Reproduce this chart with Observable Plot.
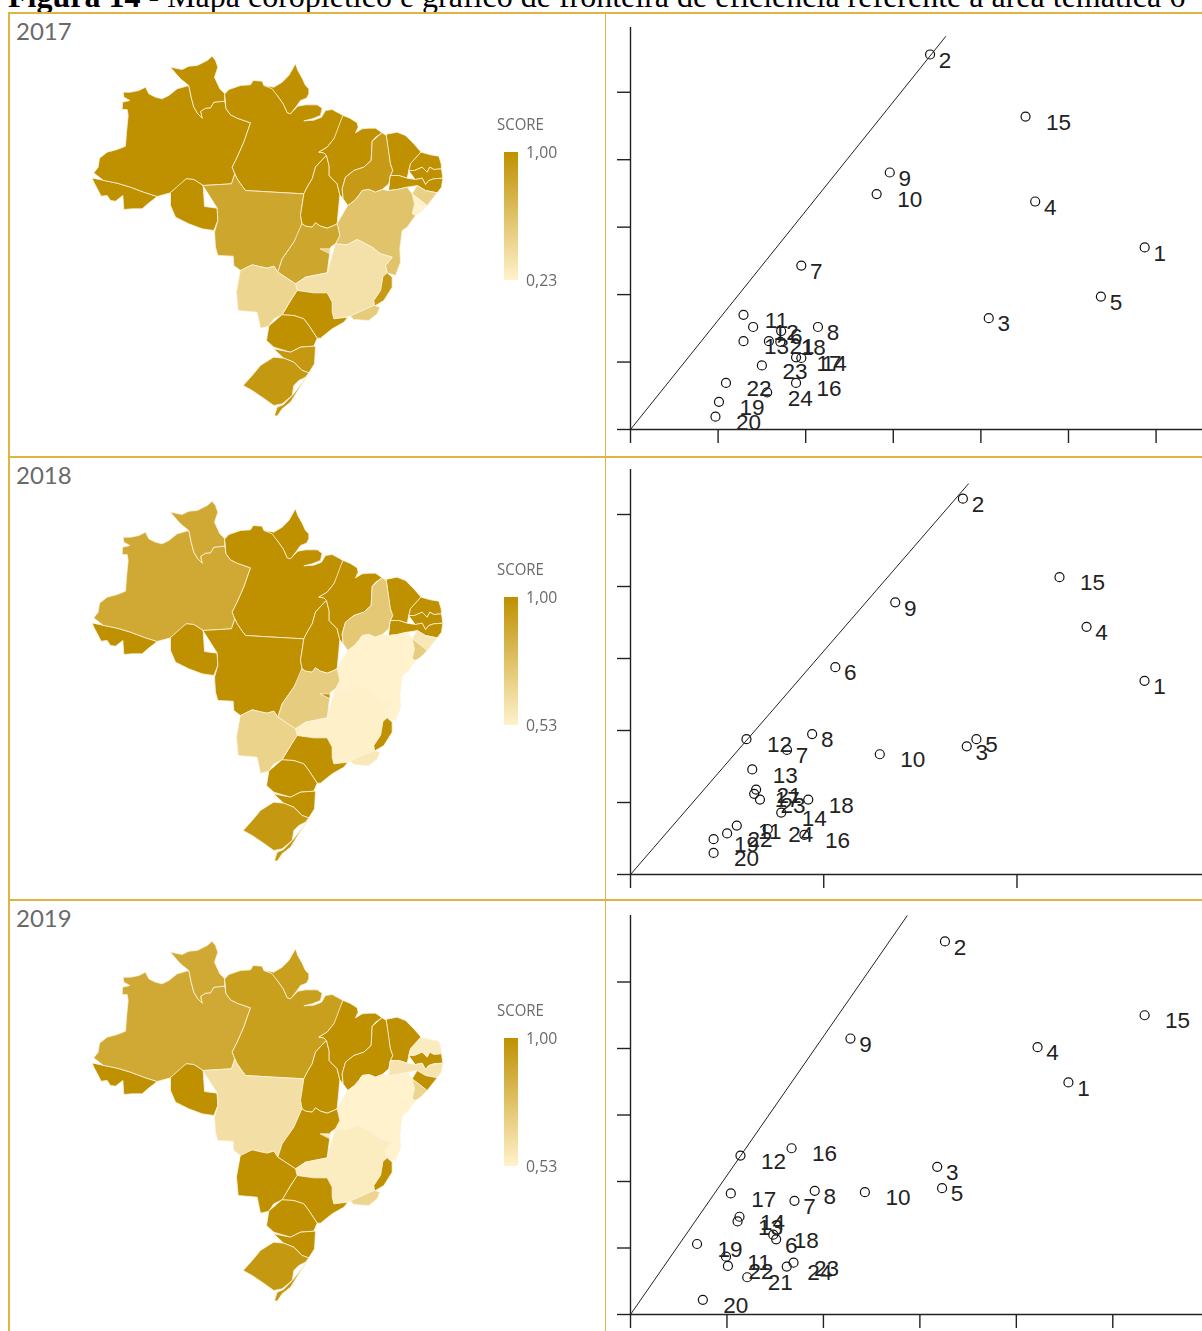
<!DOCTYPE html>
<html><head><meta charset="utf-8">
<script src="https://cdn.jsdelivr.net/npm/d3@7"></script>
<script src="https://cdn.jsdelivr.net/npm/@observablehq/plot@0.6"></script>
<style>
html,body{margin:0;padding:0;background:#fff;overflow:hidden}
#page{position:relative;width:1202px;height:1331px;overflow:hidden}
.abs{position:absolute}
.line{position:absolute;background:#dcb544}
.year{position:absolute;left:16px;font:24px Lato,sans-serif;color:#6a6a6a;line-height:30px}
.lg{position:absolute;font:17px "Open Sans",sans-serif;color:#6a6a6a;line-height:18px;white-space:nowrap;transform-origin:left}
#title{position:absolute;left:8px;top:-20px;font:32px "Liberation Serif",serif;white-space:nowrap;line-height:32px;color:#000}
</style></head><body><div id="page"></div>
<script>
const years = [2017, 2018, 2019];
const yearOrigins = [35, 480, 920];
const legendMins = [0.23, 0.53, 0.53];
const legendMinLabels = ["0,23", "0,53", "0,53"];
const legendMaxLabel = "1,00";
const stateCodes = ["AC","AM","RR","AP","PA","RO","MT","TO","MA","PI","CE","RN","PB","PE","AL","SE","BA","GO","DF","MG","ES","RJ","SP","MS","PR","SC","RS"];
const score2017 = [1,1,1,1,1,1,.83,1,1,.92,1,1,1,1,.50,.23,.60,.83,.46,.36,.92,.54,1,.46,1,.94,.94];
const score2018 = [1,.88,.88,1,1,1,1,1,1,.73,1,1,1,1,.58,.71,.53,.71,.98,.54,1,.58,1,.68,1,1,.96];
const score2019 = [1,.88,.88,.93,.93,1,.62,1,1,1,1,.56,1,.595,1,.67,.53,1,.55,.555,1,.67,1,1,1,1,.96];
const mapScores = [score2017, score2018, score2019];
const AC=[[[95,428],[100,440],[108,455],[122,482],[140,480],[150,495],[165,497],[187,480],[190,522],[215,520],[245,520],[262,505],[290,483],[250,470],[210,455],[170,443],[130,435]]];
const AM=[[[100,412],[113,395],[117,368],[140,350],[170,342],[195,332],[198,290],[203,240],[200,222],[185,222],[186,200],[208,195],[190,185],[188,170],[210,170],[235,165],[255,155],[265,175],[285,185],[305,190],[325,180],[350,160],[385,150],[392,185],[400,215],[412,235],[425,248],[420,228],[435,218],[450,217],[460,200],[493,197],[497,220],[510,238],[530,248],[570,262],[550,320],[530,365],[515,395],[523,415],[513,445],[428,450],[400,432],[378,430],[360,450],[330,472],[290,483],[250,470],[210,455],[170,443],[130,435],[95,428]]];
const RR=[[[330,95],[345,98],[365,102],[385,92],[410,90],[440,75],[455,62],[465,75],[472,95],[462,125],[478,160],[493,175],[493,197],[460,200],[450,217],[435,218],[420,228],[425,248],[412,235],[400,215],[392,185],[385,150],[360,130],[345,115]]];
const AP=[[[610,150],[640,155],[665,140],[685,120],[705,85],[712,105],[725,128],[735,150],[745,160],[745,175],[738,188],[720,195],[708,212],[690,235],[680,232],[668,205],[650,180],[635,160]]];
const PA=[[[493,175],[505,162],[540,150],[570,148],[578,135],[605,137],[610,150],[635,160],[650,180],[668,205],[680,232],[690,235],[712,212],[735,208],[770,208],[785,218],[780,240],[755,250],[730,256],[760,254],[783,245],[795,225],[815,222],[848,240],[840,275],[820,310],[800,335],[775,350],[790,352],[798,360],[783,375],[765,395],[755,430],[740,455],[730,475],[640,470],[555,465],[540,445],[530,430],[523,415],[515,395],[530,365],[550,320],[570,262],[530,248],[510,238],[497,220],[493,197]]];
const RO=[[[378,430],[400,432],[428,450],[432,513],[470,518],[472,555],[460,585],[425,580],[385,565],[345,545],[330,510],[330,472],[360,450]]];
const MT=[[[428,450],[513,445],[523,415],[530,430],[540,445],[555,465],[640,470],[730,475],[720,540],[725,565],[720,590],[700,620],[665,670],[652,710],[640,692],[620,698],[605,695],[575,688],[540,705],[520,690],[518,662],[472,660],[465,635],[462,590],[472,555],[470,518],[432,513]]];
const TO=[[[798,360],[806,392],[806,420],[815,430],[830,445],[838,478],[835,510],[830,565],[815,572],[800,578],[780,572],[765,562],[755,575],[735,572],[725,565],[720,540],[730,475],[740,455],[755,430],[765,395],[783,375]]];
const MA=[[[848,240],[868,248],[890,262],[893,275],[885,292],[905,280],[925,278],[945,278],[965,292],[945,305],[935,318],[932,375],[910,395],[880,405],[855,425],[845,460],[848,490],[838,478],[830,445],[815,430],[806,420],[806,392],[798,360],[790,352],[775,350],[800,335],[820,310],[840,275]]];
const PI=[[[965,292],[978,300],[985,340],[990,385],[997,405],[990,420],[985,445],[965,462],[945,470],[925,462],[905,465],[895,480],[882,495],[862,510],[848,490],[845,460],[855,425],[880,405],[910,395],[932,375],[935,318],[945,305]]];
const CE=[[[978,296],[1010,290],[1035,300],[1060,325],[1082,350],[1065,370],[1050,385],[1045,405],[1040,428],[1015,420],[990,420],[997,405],[990,385],[985,340]]];
const RN=[[[1082,350],[1110,358],[1135,362],[1142,385],[1143,400],[1120,402],[1108,395],[1100,410],[1085,395],[1062,405],[1045,405],[1050,385],[1065,370]]];
const PB=[[[1045,405],[1062,405],[1085,395],[1100,410],[1108,395],[1120,402],[1143,400],[1147,428],[1120,430],[1105,435],[1095,447],[1085,428],[1065,432],[1040,428]]];
const PE=[[[990,420],[1015,420],[1040,428],[1065,432],[1085,428],[1095,447],[1105,435],[1120,430],[1147,428],[1143,455],[1130,472],[1095,465],[1070,450],[1040,455],[1010,462],[985,465],[985,445]]];
const AL=[[[1055,475],[1070,450],[1095,465],[1130,472],[1100,510],[1075,490]]];
const SE=[[[1055,475],[1075,490],[1100,510],[1080,530],[1065,540],[1055,535],[1062,505]]];
const BA=[[[862,510],[882,495],[895,480],[905,465],[925,462],[945,470],[965,462],[985,465],[1010,462],[1040,455],[1055,475],[1062,505],[1055,535],[1065,540],[1040,575],[1025,585],[1018,640],[1020,680],[1005,720],[980,712],[975,690],[995,665],[960,655],[935,635],[890,612],[860,628],[825,625],[838,600],[830,565],[835,510]]];
const GO=[[[725,565],[735,572],[755,575],[765,562],[780,572],[800,578],[815,572],[830,565],[838,600],[825,625],[810,635],[800,712],[735,725],[705,745],[652,710],[665,670],[700,620],[720,590]]];
const DF=[[[780,640],[808,640],[808,654],[780,654]]];
const MG=[[[825,625],[860,628],[890,612],[935,635],[960,655],[995,665],[975,690],[980,712],[968,722],[965,735],[960,765],[940,795],[942,810],[920,830],[870,842],[820,850],[815,830],[815,800],[800,772],[760,772],[710,765],[705,745],[735,725],[800,712],[810,635]]];
const ES=[[[968,722],[980,712],[995,725],[995,755],[970,795],[945,810],[942,810],[940,795],[960,765],[965,735]]];
const RJ=[[[942,810],[958,815],[950,835],[925,855],[880,852],[870,842],[920,830]]];
const SP=[[[710,765],[760,772],[800,772],[815,800],[815,830],[820,850],[862,845],[850,860],[815,880],[780,908],[770,908],[745,870],[730,850],[700,840],[665,838],[690,795]]];
const MS=[[[540,705],[575,688],[605,695],[620,698],[640,692],[652,710],[705,745],[710,765],[690,795],[665,838],[640,850],[625,872],[600,878],[590,830],[533,825],[528,770],[530,740]]];
const PR=[[[665,838],[700,840],[730,850],[745,870],[770,908],[760,932],[720,935],[690,950],[640,935],[618,915],[625,872],[640,850]]];
const SC=[[[640,940],[690,950],[720,935],[760,932],[765,932],[762,985],[745,1012],[725,1005],[700,980],[670,968],[640,965]]];
const RS=[[[640,965],[670,968],[700,980],[725,1005],[745,1012],[735,1025],[715,1035],[700,1050],[695,1080],[665,1105],[640,1110],[605,1085],[575,1065],[548,1050],[575,1020],[600,990],[625,975]]];
const RSspit=[[[740,1022],[715,1060],[690,1100],[665,1120],[650,1142],[642,1140],[650,1115],[668,1108],[700,1075],[708,1055]]];
const stateRings = {AC,AM,RR,AP,PA,RO,MT,TO,MA,PI,CE,RN,PB,PE,AL,SE,BA,GO,DF,MG,ES,RJ,SP,MS,PR,SC,RS};

const labels = d3.range(1,25);
const x2017=[5.87,3.42,4.09,4.62,5.37,1.72,1.95,2.14,2.96,2.81,1.29,1.40,1.29,1.95,4.51,1.89,1.89,1.71,1.01,.97,1.58,1.09,1.50,1.56];
const y2017=[2.70,5.56,1.65,3.38,1.97,1.46,2.43,1.52,3.81,3.49,1.70,1.52,1.31,1.06,4.64,.69,1.07,1.30,.41,.19,1.31,.69,.95,.55];
const x2018=[2.66,1.72,1.74,2.36,1.79,1.06,.81,.94,1.37,1.29,.55,.60,.63,.78,2.22,.90,.64,.92,.43,.43,.65,.50,.67,.71];
const y2018=[2.69,5.22,1.78,3.44,1.88,2.88,1.73,1.95,3.78,1.67,.68,1.88,1.46,.86,4.13,.55,1.12,1.04,.49,.30,1.18,.57,1.04,.63];
const x2019=[4.54,3.26,3.18,4.22,3.23,1.51,1.70,1.91,2.28,2.43,.99,1.14,1.11,1.13,5.33,1.67,1.04,1.48,.69,.75,1.21,1.01,1.69,1.62];
const y2019=[3.49,5.61,2.22,4.02,1.90,1.13,1.71,1.86,4.15,1.84,.87,2.39,1.40,1.47,4.50,2.50,1.82,1.20,1.06,.22,.56,.73,.78,.72];
const frontiers=[[3.60,5.83],[1.75,5.43],[2.87,6.00]];
const scatterX=[x2017,x2018,x2019], scatterY=[y2017,y2018,y2019];
const xDomains=[[0,6.53],[0,2.96],[0,5.93]];
const yDomains=[[0,5.96],[0,5.625],[0,6.0]];
const xTicks=[[0,1,2,3,4,5,6],[0,1,2],[0,1,2,3,4,5]];
const yTicks=[[0,1,2,3,4,5],[0,1,2,3,4,5],[0,1,2,3,4,5]];
const scatterGeom=[{top:27,origin:429},{top:469,origin:874},{top:915,origin:1314}];
const rowTops=[12,456,899];
const legendTops=[115,560,1001];
const darkGold="#bf9000", lightGold="#fff2cc", borderCol="#fbf3dc";

const page=document.getElementById("page");
function add(el){page.appendChild(el);return el}
function div(cls,css,text){const d=document.createElement("div");d.className=cls;d.style.cssText=css;if(text!=null)d.textContent=text;return add(d)}

const t=div("","");t.id="title";
t.innerHTML='<b>Figura 14 -</b> Mapa coroplético e gráfico de fronteira de eficiência referente à área temática 6';

years.forEach((yr,i)=>{
  const feats=stateCodes.map((c,k)=>({type:"Feature",properties:{code:c,score:mapScores[i][k]},
    geometry: c==="RS"?{type:"MultiPolygon",coordinates:[stateRings.RS,RSspit]}:{type:"Polygon",coordinates:stateRings[c]}}));
  const map=Plot.plot({width:400,height:400,margin:0,
    projection:()=>d3.geoIdentity().scale(1/3),
    color:{type:"linear",domain:[legendMins[i],1],range:[lightGold,darkGold]},
    marks:[Plot.geo(feats,{fill:d=>d.properties.score,stroke:borderCol,strokeWidth:0.8,strokeLinejoin:"round"})]});
  map.classList.add("abs");map.style.left="60px";map.style.top=yearOrigins[i]+"px";map.style.filter="blur(0.6px)";add(map);

  const g=scatterGeom[i];
  const pts=labels.map((l,k)=>({label:String(l),x:scatterX[i][k],y:scatterY[i][k]}));
  const svgTop=g.top-5, plotH=g.origin-g.top, mb=16;
  const sc=Plot.plot({width:596,height:plotH+5+mb,marginLeft:24,marginRight:0,marginTop:5,marginBottom:mb,
    style:{background:"transparent",overflow:"visible"},
    x:{domain:xDomains[i],label:null},y:{domain:yDomains[i],label:null},
    marks:[
      Plot.axisX({ticks:xTicks[i],tickSize:14,tickFormat:()=>"",stroke:"#222",strokeWidth:1.4,label:null}),
      Plot.axisY({ticks:yTicks[i],tickSize:13,tickFormat:()=>"",stroke:"#222",strokeWidth:1.4,label:null}),
      Plot.ruleY([0],{stroke:"#222",strokeWidth:1.4}),
      Plot.ruleX([0],{stroke:"#222",strokeWidth:1.4}),
      Plot.link([frontiers[i]],{x1:0,y1:0,x2:d=>d[0],y2:d=>d[1],stroke:"#222",strokeWidth:1}),
      Plot.dot(pts,{x:"x",y:"y",r:4.5,stroke:"#111",strokeWidth:1.2,fill:"none"}),
      Plot.text(pts.filter(d=>d.label.length===1),{x:"x",y:"y",text:"label",dx:15,dy:6,fontSize:22.5,fontFamily:"Liberation Sans",fill:"#222"}),
      Plot.text(pts.filter(d=>d.label.length===2),{x:"x",y:"y",text:"label",dx:33,dy:6,fontSize:22.5,fontFamily:"Liberation Sans",fill:"#222"})
    ]});
  sc.classList.add("abs");sc.style.left="606px";sc.style.top=svgTop+"px";add(sc);

  div("year",`top:${rowTops[i]+4}px`,String(yr));
  const lt=legendTops[i];
  div("lg",`left:497px;top:${lt}px;transform:scaleX(.88)`,"SCORE");
  div("abs",`left:504px;top:${lt+37}px;width:14px;height:128px;background:linear-gradient(${darkGold},${lightGold})`);
  div("lg",`left:526px;top:${lt+28}px;transform:scaleX(.93)`,legendMaxLabel);
  div("lg",`left:526px;top:${lt+156}px;transform:scaleX(.93)`,legendMinLabels[i]);
});
div("line","left:8px;top:12px;width:1194px;height:1.5px");
div("line","left:8px;top:456px;width:1194px;height:1.5px");
div("line","left:8px;top:899px;width:1194px;height:1.5px");
div("line","left:8px;top:12px;width:1.5px;height:1319px");
div("line","left:604.5px;top:12px;width:1.5px;height:1319px");
</script></body></html>
